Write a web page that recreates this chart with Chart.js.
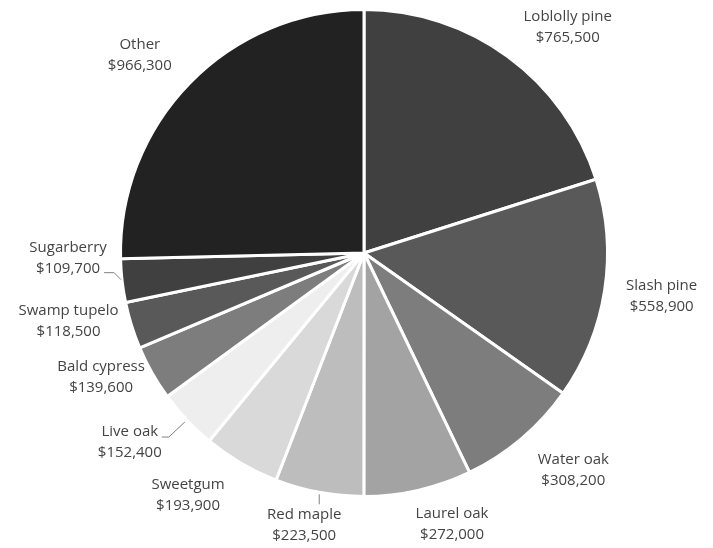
<!DOCTYPE html>
<html>
<head>
<meta charset="utf-8">
<script src="https://cdn.jsdelivr.net/npm/chart.js@4"></script>
<style>
  html, body { margin: 0; padding: 0; background: #fff; }
  #wrap { width: 713px; height: 548px; }
</style>
</head>
<body>
<div id="wrap"><canvas id="chart"></canvas></div>
<script>
// Tree species value, clockwise from 12 o'clock
const species = ['Loblolly pine', 'Slash pine', 'Water oak', 'Laurel oak', 'Red maple', 'Sweetgum',
  'Live oak', 'Bald cypress', 'Swamp tupelo', 'Sugarberry', 'Other'];
const values = [765500, 558900, 308200, 272000, 223500, 193900, 152400, 139600, 118500, 109700, 966300];
const shades = ['#404040', '#595959', '#7d7d7d', '#a3a3a3', '#bdbdbd', '#d9d9d9',
  '#eeeeee', '#7d7d7d', '#595959', '#404040', '#222222'];

const fmt = v => '$' + v.toLocaleString('en-US');

// label block centre relative to the rim point at each slice's mid-angle;
// leader: optional polyline points (relative to rim point)
const labelPlacement = [
  { dx: 60, dy: -29 },
  { dx: 57, dy: 6 },
  { dx: 52, dy: 31 },
  { dx: 34, dy: 34 },
  { dx: -15, dy: 33, leader: [[0, 2], [0, 12]] },
  { dx: -53, dy: 32 },
  { dx: -57, dy: 22, leader: [[-2, 2], [-18, 17], [-25, 17]] },
  { dx: -51, dy: 4 },
  { dx: -63, dy: -4 },
  { dx: -54, dy: -22, leader: [[-1, -1], [-8, -8], [-18, -8]] },
  { dx: -50, dy: -28 }
];

const outsideLabels = {
  id: 'outsideLabels',
  afterDatasetsDraw(chart) {
    const ctx = chart.ctx;
    const meta = chart.getDatasetMeta(0);
    ctx.save();
    ctx.font = '15px "Open Sans", sans-serif';
    ctx.fillStyle = '#444444';
    ctx.textAlign = 'center';
    ctx.textBaseline = 'middle';
    meta.data.forEach((arc, i) => {
      const { x, y, startAngle, endAngle, outerRadius } = arc.getProps(['x', 'y', 'startAngle', 'endAngle', 'outerRadius'], true);
      const mid = (startAngle + endAngle) / 2;
      const rx = x + Math.cos(mid) * outerRadius;
      const ry = y + Math.sin(mid) * outerRadius;
      const p = labelPlacement[i];
      if (p.leader) {
        ctx.strokeStyle = '#808080';
        ctx.lineWidth = 1;
        ctx.beginPath();
        p.leader.forEach(([lx, ly], k) => {
          if (k === 0) ctx.moveTo(rx + lx, ry + ly);
          else ctx.lineTo(rx + lx, ry + ly);
        });
        ctx.stroke();
      }
      const cx = rx + p.dx;
      const cy = ry + p.dy;
      ctx.fillText(species[i], cx, cy - 10.5);
      ctx.fillText(fmt(values[i]), cx, cy + 10.5);
    });
    ctx.restore();
  }
};

new Chart(document.getElementById('chart'), {
  type: 'pie',
  data: {
    labels: species,
    datasets: [{
      data: values,
      backgroundColor: shades,
      borderColor: '#ffffff',
      borderWidth: 3,
      hoverOffset: 0
    }]
  },
  options: {
    responsive: true,
    maintainAspectRatio: false,
    animation: false,
    radius: 243.5,
    layout: { padding: { left: 15, right: 0, top: 0, bottom: 42 } },
    plugins: {
      legend: { display: false },
      tooltip: { enabled: false }
    }
  },
  plugins: [outsideLabels]
});
</script>
</body>
</html>
